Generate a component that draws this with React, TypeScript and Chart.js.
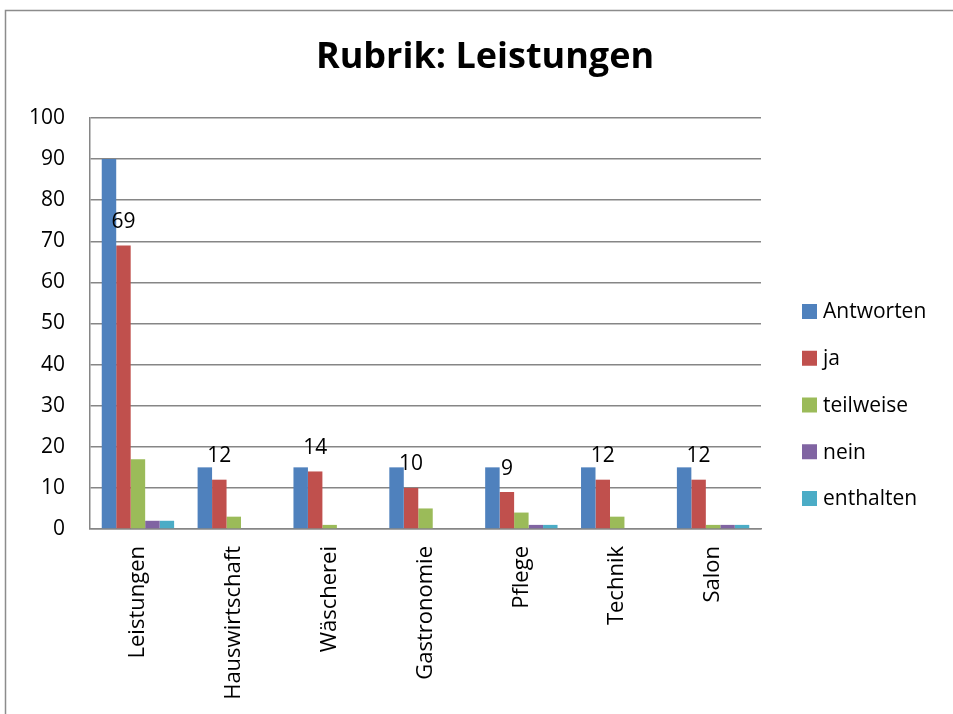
import React, { useEffect, useRef } from "react";
import { Chart, registerables } from "chart.js";

Chart.register(...registerables);

const categories = ["Leistungen", "Hauswirtschaft", "Wäscherei", "Gastronomie", "Pflege", "Technik", "Salon"];
const seriesNames = ["Antworten", "ja", "teilweise", "nein", "enthalten"];
const antworten = [90, 15, 15, 15, 15, 15, 15];
const ja = [69, 12, 14, 10, 9, 12, 12];
const teilweise = [17, 3, 1, 5, 4, 3, 1];
const nein = [2, 0, 0, 0, 1, 0, 1];
const enthalten = [2, 0, 0, 0, 1, 0, 1];
const seriesColors = ["#4F81BD", "#C0504D", "#9BBB59", "#8064A2", "#4BACC6"];
const titleText = "Rubrik: Leistungen";
const labeledSeries = 1; // "ja"

const FONT = "'Open Sans', 'Liberation Sans', sans-serif";

const decorPlugin = {
  id: "decor",
  beforeDraw(chart: any) {
    const ctx = chart.ctx;
    ctx.save();
    ctx.fillStyle = "#ffffff";
    ctx.fillRect(0, 0, chart.width, chart.height);
    ctx.strokeStyle = "#8c8c8c";
    ctx.lineWidth = 1.5;
    ctx.beginPath();
    ctx.moveTo(5.5, chart.height + 5);
    ctx.lineTo(5.5, 10.5);
    ctx.lineTo(chart.width + 5, 10.5);
    ctx.stroke();
    ctx.restore();
  },
  afterDraw(chart: any) {
    const ctx = chart.ctx;
    ctx.save();
    // title
    ctx.fillStyle = "#000";
    ctx.font = `bold 36px ${FONT}`;
    ctx.textAlign = "center";
    ctx.textBaseline = "alphabetic";
    ctx.fillText(titleText, 485, 68);
    // legend
    ctx.font = `21px ${FONT}`;
    ctx.textAlign = "left";
    ctx.textBaseline = "middle";
    chart.data.datasets.forEach((ds: any, i: number) => {
      const cy = 311.5 + i * 46.75;
      ctx.fillStyle = ds.backgroundColor;
      ctx.fillRect(802, cy - 7.5, 15, 15);
      ctx.fillStyle = "#000";
      ctx.fillText(ds.label, 823, cy + 1);
    });
    // data labels on "ja"
    const meta = chart.getDatasetMeta(labeledSeries);
    const vals = chart.data.datasets[labeledSeries].data;
    ctx.font = `21px ${FONT}`;
    ctx.textAlign = "center";
    ctx.textBaseline = "alphabetic";
    meta.data.forEach((bar: any, i: number) => {
      ctx.fillStyle = "#000";
      ctx.fillText(String(vals[i]), bar.x, bar.y - 17.5);
    });
    ctx.restore();
  },
};

export default function App() {
  const ref = useRef<HTMLCanvasElement>(null);
  useEffect(() => {
    document.body.style.margin = "0";
    Chart.defaults.font.family = FONT;
    const chart = new Chart(ref.current as HTMLCanvasElement, {
      type: "bar",
      data: {
        labels: categories,
        datasets: [antworten, ja, teilweise, nein, enthalten].map((d, i) => ({
          label: seriesNames[i],
          data: d,
          backgroundColor: seriesColors[i],
          borderWidth: 0,
          categoryPercentage: 0.755,
          barPercentage: 1.0,
        })),
      },
      options: {
        responsive: false,
        animation: false,
        layout: { padding: { top: 118, right: 192, left: 0, bottom: 0 } },
        plugins: {
          legend: { display: false },
          title: { display: false },
          tooltip: { enabled: false },
        },
        scales: {
          x: {
            grid: { display: false, drawTicks: false },
            border: { display: true, color: "#868686", width: 1.5 },
            ticks: {
              color: "#000",
              font: { size: 22, family: FONT },
              maxRotation: 90,
              minRotation: 90,
              padding: 17,
              autoSkip: false,
            },
            afterFit: (s: any) => {
              s.height = 714 - 529;
            },
          },
          y: {
            min: 0,
            max: 100,
            grid: { color: "#868686", lineWidth: 1.5, drawTicks: false },
            border: { display: true, color: "#868686", width: 1.5 },
            ticks: {
              stepSize: 10,
              color: "#000",
              font: { size: 21, family: FONT },
              padding: 25,
            },
            afterFit: (s: any) => {
              s.width = 90;
            },
          },
        },
      },
      plugins: [decorPlugin],
    });
    return () => chart.destroy();
  }, []);
  return (
    <div style={{ position: "fixed", left: 0, top: 0, width: 953, height: 714 }}>
      <canvas ref={ref} width={953} height={714} style={{ width: 953, height: 714 }} />
    </div>
  );
}
